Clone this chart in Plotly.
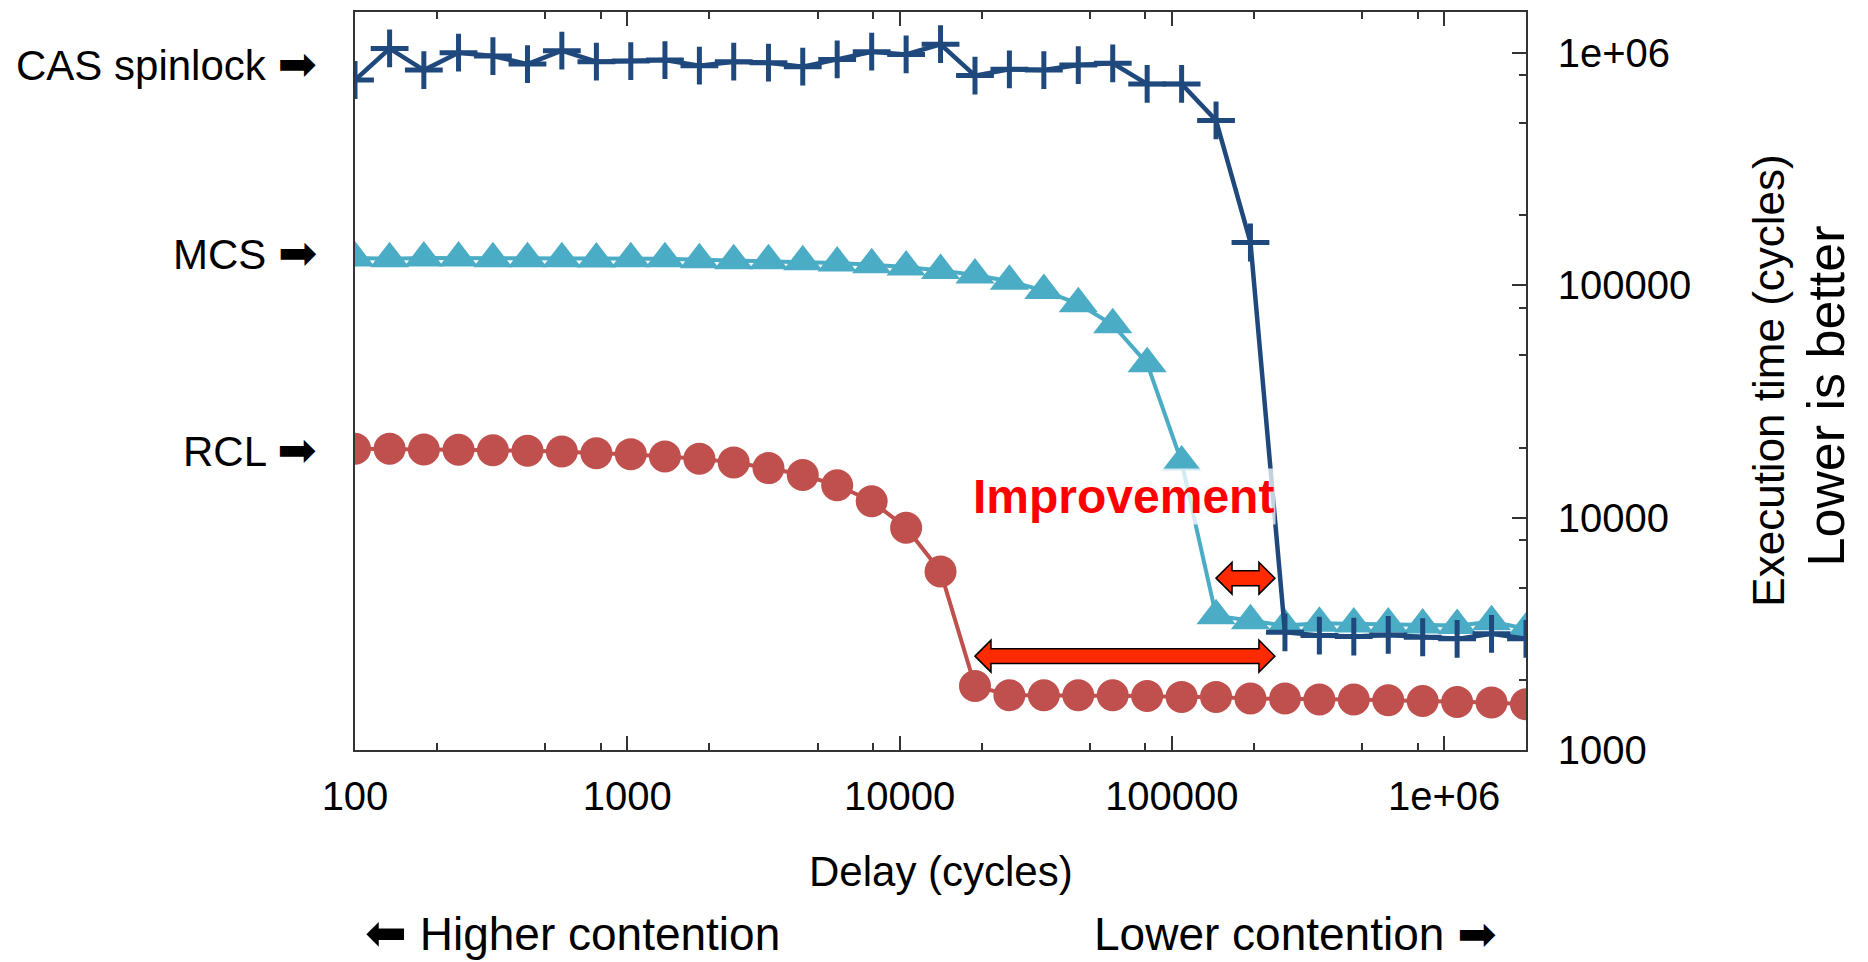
import math
import plotly.graph_objects as go

# delay (cycles)
delay = [100, 134, 179, 240, 321, 430, 575, 770, 1030, 1375, 1840, 2460, 3300, 4410,
         5900, 7900, 10570, 14140, 18920, 25310, 33870, 45320, 60650, 81150, 108600,
         145300, 194400, 260200, 348100, 465800, 623300, 834000, 1116000, 1493000, 1998000]

cas = [764700, 1045000, 843800, 1002000, 969000, 895400, 1022000, 917000, 922600, 931800,
       881600, 917000, 907800, 872900, 938000, 1012000, 985400, 1090000, 798700, 849600,
       843800, 886900, 901600, 735100, 735100, 512400, 152800, 3211, 3108, 3077,
       3129, 3056, 3008, 3161, 3008]

mcs = [130900, 130100, 130900, 130900, 130100, 130100, 130100, 129600, 130100, 130100,
       128800, 127600, 127600, 126300, 124600, 122600, 119800, 115900, 110700, 104000,
       94900, 83200, 67600, 46000, 17340, 3786, 3603, 3430, 3509, 3488,
       3488, 3453, 3430, 3568, 3320]

rcl = [19790, 19790, 19650, 19590, 19510, 19400, 19260, 18940, 18760, 18340,
       17930, 17290, 16340, 15250, 13780, 11770, 9043, 5861, 1886, 1720,
       1720, 1720, 1720, 1708, 1692, 1692, 1665, 1665, 1649, 1649,
       1638, 1626, 1610, 1601, 1574]

x_major = [100, 1000, 10000, 100000, 1000000]
x_major_text = ["100", "1000", "10000", "100000", "1e+06"]
x_minor = [200, 500, 800, 2000, 5000, 8000, 20000, 50000, 80000,
           200000, 500000, 800000]
y_major = [1000, 10000, 100000, 1000000]
y_major_text = ["1000", "10000", "100000", "1e+06"]
y_minor = [2000, 5000, 8000, 20000, 50000, 80000, 200000, 500000, 800000]

C_CAS = "#1F497D"
C_MCS = "#4BACC6"
C_RCL = "#C0504D"
FONT = "Liberation Sans, Arial, DejaVu Sans"
ARROW_R = "<span style=\"font-family:'DejaVu Sans';font-size:47px\">➡</span>"
ARROW_L = "<span style=\"font-family:'DejaVu Sans';font-size:50px\">⬅</span>"

fig = go.Figure()
fig.add_trace(go.Scatter(x=delay, y=rcl, mode="lines+markers", name="RCL",
                         line=dict(color=C_RCL, width=4),
                         marker=dict(color=C_RCL, size=32, symbol="circle")))
fig.add_trace(go.Scatter(x=delay, y=mcs, mode="lines+markers", name="MCS",
                         line=dict(color=C_MCS, width=4),
                         marker=dict(color=C_MCS, size=34, symbol="triangle-up")))
fig.add_trace(go.Scatter(x=delay, y=cas, mode="lines+markers", name="CAS spinlock",
                         line=dict(color=C_CAS, width=4.5),
                         marker=dict(color=C_CAS, size=27, symbol="cross-thin",
                                     line=dict(color=C_CAS, width=5))))

xr = [math.log10(delay[0]), math.log10(delay[-1])]
yr = [3, math.log10(1.5e6)]


def xpaper(v):
    return (math.log10(v) - xr[0]) / (xr[1] - xr[0])


def ypaper(v):
    return (math.log10(v) - yr[0]) / (yr[1] - yr[0])


# double-headed block arrows (improvement span), built in paper units
W, H = 1171.0, 740.0


def double_arrow(x0, x1, yc):
    hl, hh, sh = 16 / W, 16 / H, 7.5 / H
    pts = [(x0, yc), (x0 + hl, yc + hh), (x0 + hl, yc + sh), (x1 - hl, yc + sh),
           (x1 - hl, yc + hh), (x1, yc), (x1 - hl, yc - hh), (x1 - hl, yc - sh),
           (x0 + hl, yc - sh), (x0 + hl, yc - hh)]
    return "M" + " L".join("%.5f,%.5f" % p for p in pts) + " Z"


shapes = [
    dict(type="path", xref="paper", yref="paper",
         path=double_arrow(xpaper(delay[18]), xpaper(delay[27]) - 10 / W, ypaper(2535)),
         fillcolor="#FF2A00", line=dict(color="black", width=1.5)),
    dict(type="path", xref="paper", yref="paper",
         path=double_arrow(xpaper(delay[25]), xpaper(delay[27]) - 10 / W, ypaper(5490)),
         fillcolor="#FF2A00", line=dict(color="black", width=1.5)),
]

annotations = [
    dict(text="CAS spinlock " + ARROW_R, x=-0.031, y=0.930, xanchor="right",
         yanchor="middle", font=dict(size=42)),
    dict(text="MCS " + ARROW_R, x=-0.031, y=0.674, xanchor="right", yanchor="middle",
         font=dict(size=42)),
    dict(text="RCL " + ARROW_R, x=-0.031, y=0.407, xanchor="right", yanchor="middle",
         font=dict(size=42)),
    dict(text="Delay (cycles)", x=0.5, y=-0.165, xanchor="center", yanchor="middle",
         font=dict(size=42)),
    dict(text=ARROW_L + " Higher contention", x=0.007, y=-0.248, xanchor="left",
         yanchor="middle", font=dict(size=46)),
    dict(text="Lower contention " + ARROW_R, x=0.977, y=-0.248, xanchor="right",
         yanchor="middle", font=dict(size=46)),
    dict(text="Execution time (cycles)", x=1.207, y=0.501, textangle=-90,
         xanchor="center", yanchor="middle", font=dict(size=44)),
    dict(text="Lower is better", x=1.256, y=0.48, textangle=-90,
         xanchor="center", yanchor="middle", font=dict(size=52)),
    dict(text="<b>Improvement</b>", x=0.656, y=0.343, xanchor="center", yanchor="middle",
         font=dict(size=48, color="#FF0000"), bgcolor="rgba(255,255,255,0.75)"),
]
for a in annotations:
    a.update(xref="paper", yref="paper", showarrow=False)

# the page body adds an 8px offset, so margins are shifted by that amount
fig.update_layout(width=1868, height=962, paper_bgcolor="white", plot_bgcolor="white",
                  font=dict(family=FONT, color="black", size=40), showlegend=False,
                  margin=dict(l=347, r=350, t=2, b=220),
                  shapes=shapes, annotations=annotations)
fig.update_xaxes(type="log", range=xr, showgrid=False, zeroline=False,
                 showline=True, linecolor="#333", linewidth=1.5, mirror="ticks",
                 ticks="inside", ticklen=14, tickwidth=1.5, tickcolor="#333",
                 tickvals=x_major, ticktext=x_major_text, ticklabelstandoff=10,
                 minor=dict(tickvals=x_minor, ticks="inside", ticklen=7,
                            tickwidth=1.5, tickcolor="#333", showgrid=False))
fig.update_yaxes(type="log", range=yr, side="right", showgrid=False, zeroline=False,
                 showline=True, linecolor="#333", linewidth=1.5, mirror=True,
                 ticks="inside", ticklen=14, tickwidth=1.5, tickcolor="#333",
                 tickvals=y_major, ticktext=y_major_text, ticklabelstandoff=22,
                 minor=dict(tickvals=y_minor, ticks="inside", ticklen=7,
                            tickwidth=1.5, tickcolor="#333", showgrid=False))
fig.write_html("out.html")
